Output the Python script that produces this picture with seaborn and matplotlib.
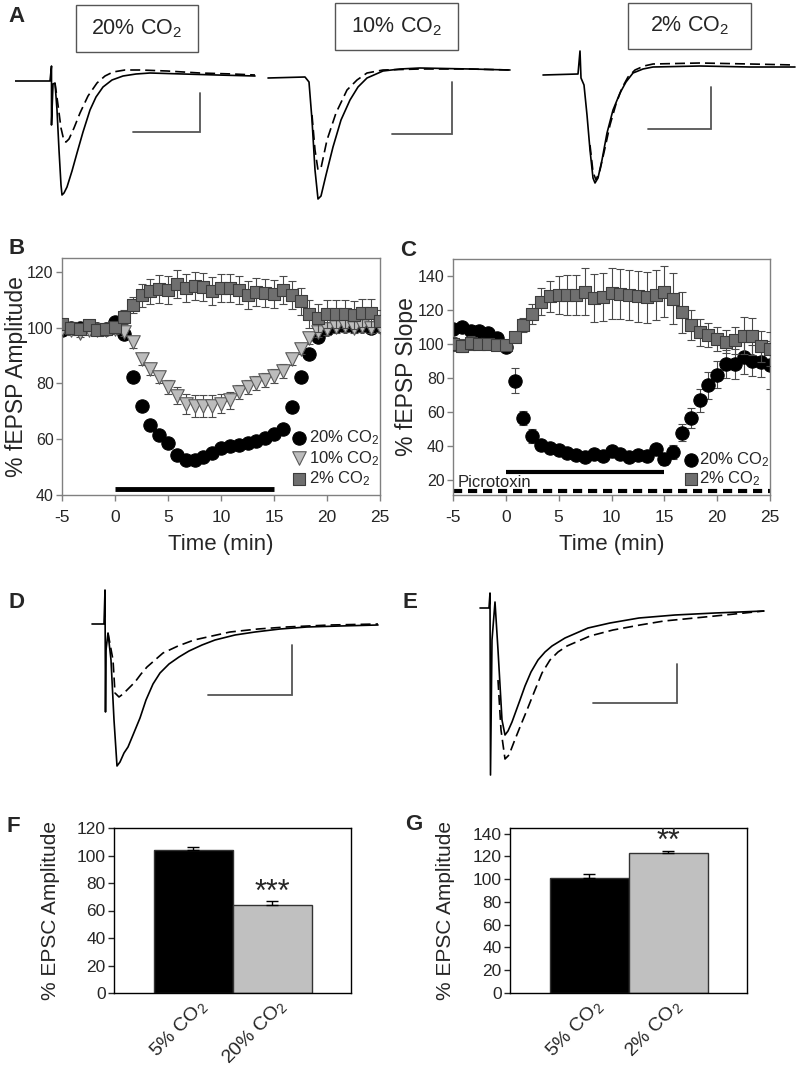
import matplotlib
matplotlib.use("Agg")
import matplotlib.pyplot as plt
import matplotlib.transforms as mtrans
import seaborn as sns
import pandas as pd
from matplotlib.patches import Rectangle

# ---------------- data ----------------
time_min = [-5.0, -4.17, -3.33, -2.5, -1.67, -0.83, 0.0, 0.83, 1.67, 2.5, 3.33, 4.17, 5.0,
            5.83, 6.67, 7.5, 8.33, 9.17, 10.0, 10.83, 11.67, 12.5, 13.33, 14.17, 15.0, 15.83,
            16.67, 17.5, 18.33, 19.17, 20.0, 20.83, 21.67, 22.5, 23.33, 24.17, 25.0]

# panel B: % fEPSP amplitude
amp_20 = [99.0, 100.0, 100.0, 100.5, 99.5, 99.5, 102.1, 97.8, 82.5, 72.0, 65.0, 61.5, 58.5,
          54.5, 52.5, 52.5, 53.5, 55.0, 56.8, 57.6, 58.0, 58.6, 59.5, 60.5, 61.8, 63.5, 71.5,
          82.5, 90.5, 96.5, 99.4, 100.5, 100.5, 100.5, 100.5, 100.0, 100.5]
amp_20_err = [1.0, 1.0, 1.0, 1.0, 1.0, 1.0, 1.0, 1.0, 1.0, 1.0, 1.0, 1.0, 1.2, 1.5, 1.5, 1.5,
              1.5, 1.5, 1.2, 1.2, 1.0, 1.0, 1.0, 1.0, 1.0, 1.0, 1.0, 1.0, 1.0, 1.0, 1.0, 1.0,
              1.0, 1.0, 1.0, 1.0, 1.0]
amp_10 = [99.5, 99.0, 98.0, 99.0, 99.3, 99.0, 99.4, 98.5, 94.8, 88.6, 85.2, 82.3, 78.6, 75.6,
          72.6, 71.8, 71.8, 71.8, 72.8, 74.0, 76.8, 78.8, 80.2, 81.4, 82.6, 84.5, 88.6, 92.5,
          96.3, 98.5, 99.5, 100.2, 100.5, 100.0, 100.5, 100.0, 100.3]
amp_10_err = [1.5, 1.5, 1.5, 1.5, 1.5, 1.5, 1.5, 1.5, 2.0, 2.0, 2.0, 2.0, 2.5, 3.0, 3.5, 4.0,
              4.0, 4.0, 3.5, 3.0, 2.5, 2.5, 2.5, 2.5, 2.5, 2.5, 2.0, 2.0, 2.0, 2.0, 2.0, 2.0,
              2.0, 2.0, 2.0, 2.0, 2.0]
amp_2 = [101.2, 100.0, 99.7, 100.8, 99.3, 99.4, 100.3, 103.8, 108.1, 111.6, 113.0, 114.0,
         113.6, 115.7, 114.3, 115.0, 114.7, 113.3, 114.3, 114.2, 113.5, 111.8, 112.9, 112.4,
         112.0, 113.5, 111.7, 109.4, 104.8, 103.5, 104.8, 105.0, 105.0, 104.5, 105.4, 105.4,
         102.5]
amp_2_err = [2.0, 2.0, 2.0, 2.0, 2.0, 2.0, 2.0, 2.5, 3.0, 4.0, 4.5, 5.0, 5.0, 5.0, 5.0, 5.0,
             5.0, 5.0, 5.0, 5.0, 5.0, 5.0, 5.0, 5.0, 5.0, 5.0, 5.0, 5.0, 5.0, 5.0, 5.0, 5.0,
             5.0, 5.0, 5.0, 5.0, 4.0]

# panel C: % fEPSP slope (with picrotoxin)
slope_20 = [108.8, 109.8, 107.8, 107.3, 106.3, 103.3, 98.0, 78.4, 56.3, 45.7, 40.6, 38.6, 37.3,
            35.9, 34.7, 33.3, 35.3, 33.9, 36.7, 35.3, 33.3, 34.7, 33.9, 38.2, 32.4, 36.3, 47.6,
            56.5, 66.7, 75.5, 81.8, 88.2, 88.2, 92.2, 90.2, 89.6, 87.6]
slope_20_err = [2, 2, 2, 2, 2, 2, 2, 7.5, 4, 4, 3, 3, 3, 3, 3, 3, 3, 3, 3, 3, 3, 3, 3, 3, 3.5,
                4, 5, 6, 7, 8, 8, 8, 9, 10, 9, 9, 14]
slope_2 = [100.0, 99.0, 100.6, 100.0, 100.0, 99.4, 99.2, 103.9, 111.2, 117.6, 124.9, 128.0,
           128.8, 128.8, 128.8, 130.8, 127.1, 127.5, 129.8, 129.4, 128.8, 128.0, 127.5, 128.8,
           130.8, 126.5, 118.6, 111.2, 106.9, 105.3, 102.9, 101.4, 102.0, 104.9, 104.5, 98.6,
           97.1]
slope_2_err = [4, 4, 4, 3, 3, 3, 3, 3, 4, 6, 8, 9, 11, 12, 12, 14, 14, 14, 15, 15, 15, 15, 15,
               15, 15, 15, 12, 9, 8, 7, 7, 7, 8, 11, 11, 9, 10]

co2_period = [0, 15]          # min
picrotoxin_period = [-5, 25]  # min

# panels F / G: % EPSC amplitude
f_groups = ["5% CO$_2$", "20% CO$_2$"]
f_values = [104, 64]
f_errors = [2, 3]
g_groups = ["5% CO$_2$", "2% CO$_2$"]
g_values = [101, 123]
g_errors = [4, 2]

# example traces (time in ms, amplitude in mV); *_d = dashed trace
a20_t = [0, 3.5, 3.65, 3.65, 3.8, 4.0, 4.2, 4.4, 4.6, 4.7, 4.9, 5.2, 5.7, 6.2, 6.8, 7.5, 8.1,
         8.8, 9.7, 10.8, 12.1, 13.5, 16.8, 20.2, 24.0]
a20_v = [0, 0, 0.15, -0.44, -0.03, -0.02, -0.29, -0.69, -1.04, -1.14, -1.12, -1.06, -0.90,
         -0.72, -0.51, -0.29, -0.16, -0.06, 0.01, 0.05, 0.07, 0.08, 0.07, 0.06, 0.05]
a20_d_t = [4.0, 4.3, 4.6, 4.9, 5.1, 5.4, 5.9, 6.5, 7.3, 8.2, 9.0, 9.8, 11.0, 12.5, 15.2, 18.5,
           21.8, 24.0]
a20_d_v = [-0.02, -0.24, -0.47, -0.60, -0.61, -0.58, -0.47, -0.32, -0.15, -0.02, 0.05, 0.09,
           0.11, 0.11, 0.10, 0.08, 0.07, 0.06]
a10_t = [0, 3.7, 4.1, 4.4, 4.7, 5.0, 5.3, 5.8, 6.5, 7.3, 8.2, 9.0, 9.9, 11.5, 13.2, 15.2, 20.2,
         24.2]
a10_v = [-0.01, 0, -0.05, -0.43, -0.93, -1.22, -1.19, -0.98, -0.70, -0.43, -0.23, -0.10, -0.01,
         0.06, 0.08, 0.09, 0.08, 0.07]
a10_d_t = [4.4, 4.7, 5.0, 5.3, 5.9, 6.8, 7.9, 8.9, 9.9, 11.5, 15.2, 20.2, 24.2]
a10_d_v = [-0.38, -0.73, -0.93, -0.91, -0.63, -0.36, -0.13, -0.03, 0.04, 0.07, 0.08, 0.08, 0.07]
a2_t = [0, 3.5, 3.7, 3.8, 4.1, 4.4, 4.7, 5.0, 5.2, 5.5, 5.9, 6.4, 7.0, 7.7, 8.3, 9.0, 10.0,
        11.0, 15.7, 20.7, 25.2]
a2_v = [0, 0.01, 0.24, -0.03, -0.10, -0.40, -0.75, -1.03, -1.08, -1.03, -0.85, -0.58, -0.35,
        -0.18, -0.07, 0.02, 0.06, 0.08, 0.09, 0.08, 0.08]
a2_d_t = [4.7, 5.0, 5.3, 5.7, 6.2, 6.7, 7.3, 7.9, 8.5, 9.2, 10.1, 11.0, 15.7, 20.7, 25.2]
a2_d_v = [-0.70, -0.97, -1.05, -0.95, -0.73, -0.50, -0.29, -0.13, -0.02, 0.05, 0.09, 0.11,
          0.12, 0.11, 0.10]
d_t = [0, 1.2, 1.3, 1.35, 1.4, 1.6, 1.9, 2.2, 2.5, 2.8, 3.2, 3.6, 4.1, 4.8, 5.4, 6.1, 6.8, 7.7,
       8.7, 9.7, 11.0, 12.3, 14.3, 16.3, 18.8, 21.5, 24.8, 28.6]
d_v = [0, 0, 0.34, -0.88, -0.26, -0.09, -0.36, -0.96, -1.42, -1.38, -1.29, -1.23, -1.11, -0.94,
       -0.76, -0.60, -0.49, -0.40, -0.33, -0.27, -0.21, -0.16, -0.11, -0.08, -0.05, -0.03, -0.02,
       -0.01]
d_d_t = [1.6, 2.1, 2.3, 2.7, 3.1, 3.7, 4.3, 4.9, 5.5, 6.3, 7.1, 8.6, 10.2, 12.0, 13.8, 16.6,
         19.4, 23.8, 28.6]
d_d_v = [-0.09, -0.36, -0.69, -0.73, -0.70, -0.64, -0.58, -0.50, -0.43, -0.36, -0.29, -0.22,
         -0.16, -0.12, -0.08, -0.05, -0.03, -0.01, 0.0]
e_t = [0, 0.9, 1.0, 1.05, 1.2, 1.5, 1.8, 2.2, 2.5, 2.8, 3.2, 3.6, 4.0, 4.5, 5.1, 5.8, 6.5, 7.2,
       8.5, 10.8, 13.0, 15.9, 19.5, 23.5, 28.4]
e_v = [0, 0, 0.15, -1.67, -0.32, 0.06, -0.42, -1.12, -1.27, -1.23, -1.14, -1.03, -0.92, -0.78,
       -0.64, -0.52, -0.44, -0.38, -0.30, -0.20, -0.15, -0.10, -0.07, -0.05, -0.03]
e_d_t = [1.8, 2.1, 2.5, 2.9, 3.4, 4.0, 4.7, 5.5, 6.2, 7.0, 7.8, 8.7, 11.0, 13.3, 16.0, 18.4,
         23.5, 28.4]
e_d_v = [-0.72, -1.22, -1.51, -1.47, -1.34, -1.19, -1.02, -0.82, -0.65, -0.52, -0.44, -0.38,
         -0.28, -0.22, -0.17, -0.13, -0.08, -0.03]

# ---------------- style ----------------
sns.set_style("white")
plt.rcParams["font.family"] = ["Liberation Sans", "DejaVu Sans"]
plt.rcParams["mathtext.default"] = "regular"
plt.rcParams["axes.unicode_minus"] = False

W, H = 797, 1068
fig = plt.figure(figsize=(W / 100, H / 100), dpi=100)


def rect(l, t, r, b):
    return [l / W, 1 - b / H, (r - l) / W, (b - t) / H]


def fig_text(x, y, s, **kw):
    fig.text(x / W, 1 - y / H, s, **kw)


def trace_axes(l, t, r, b, x0, y0):
    ax = fig.add_axes(rect(l, t, r, b))
    ax.set_xlim((l - x0) / 10, (r - x0) / 10)
    ax.set_ylim((y0 - b) / 100, (y0 - t) / 100)
    ax.axis("off")
    return ax


def draw_trace(ax, t, v, td, vd, bar):
    sns.lineplot(x=t, y=v, ax=ax, color="black", lw=1.2, sort=False, estimator=None)
    sns.lineplot(x=td, y=vd, ax=ax, color="black", lw=1.2, sort=False, estimator=None,
                 linestyle=(0, (6, 3)))
    cx, cy, hl, vl = bar
    ax.plot([cx - hl, cx, cx], [cy, cy, cy + vl], color="#555555", lw=1.3,
            solid_joinstyle="miter")


def style_frame(ax, color="#808080"):
    for sp in ax.spines.values():
        sp.set_visible(True)
        sp.set_color(color)
        sp.set_linewidth(1.0)
    ax.tick_params(axis="both", direction="out", length=4, width=1, color=color,
                   left=True, bottom=True)
    ax.tick_params(axis="y", pad=2, labelsize=11.5)
    ax.tick_params(axis="x", pad=7, labelsize=12.5)


# ---------------- A: traces ----------------
panels_A = [
    ((15, 40, 262, 215, 15, 81), (a20_t, a20_v, a20_d_t, a20_d_v), (18.5, -0.51, 6.7, 0.39),
     (76, 5, 198, 52), "20% CO$_2$"),
    ((265, 40, 515, 215, 268, 77), (a10_t, a10_v, a10_d_t, a10_d_v), (18.4, -0.57, 6.0, 0.52),
     (335, 3, 458, 50), "10% CO$_2$"),
    ((540, 40, 797, 215, 543, 75), (a2_t, a2_v, a2_d_t, a2_d_v), (16.8, -0.54, 6.3, 0.42),
     (628, 3, 751, 49), "2% CO$_2$"),
]
for box, tr, bar, lab_box, lab in panels_A:
    ax = trace_axes(*box)
    draw_trace(ax, *tr, bar)
    l, t, r, b = lab_box
    fig.add_artist(Rectangle((l / W, 1 - b / H), (r - l) / W, (b - t) / H,
                             transform=fig.transFigure, fill=False, ec="#555555", lw=1.0))
    fig_text((l + r) / 2, (t + b) / 2, lab, ha="center", va="center", fontsize=15.5)

# ---------------- B ----------------
axB = fig.add_axes(rect(62, 258, 380, 495))
series_B = [
    ("20% CO$_2$", amp_20, amp_20_err, "o", "black", "black", 92, 2),
    ("10% CO$_2$", amp_10, amp_10_err, "v", "#bcbcbc", "#5a5a5a", 95, 3),
    ("2% CO$_2$", amp_2, amp_2_err, "s", "#6f6f6f", "#3c3c3c", 74, 4),
]
for name, vals, errs, mk, fc, ec, s, z in series_B:
    axB.errorbar(time_min, vals, yerr=errs, fmt="none", ecolor="#4a4a4a", elinewidth=0.8,
                 capsize=3, capthick=0.8, zorder=z)
    sns.scatterplot(x=time_min, y=vals, marker=mk, s=s, color=fc, edgecolor=ec, linewidth=0.8,
                    ax=axB, zorder=z + 0.5, label=name)
axB.plot(co2_period, [42, 42], color="black", lw=3.5, solid_capstyle="butt")
axB.set_xlim(-5, 25)
axB.set_ylim(40, 125)
axB.set_xticks([-5, 0, 5, 10, 15, 20, 25])
axB.set_yticks([40, 60, 80, 100, 120])
style_frame(axB)
axB.set_ylabel("% fEPSP Amplitude", fontsize=16.5)
axB.yaxis.set_label_coords(-0.108, 0.5)
axB.set_xlabel("Time (min)", fontsize=16, labelpad=6)
axB.legend(loc="lower right", bbox_to_anchor=(1.0, 0.03), frameon=False, fontsize=12,
           handletextpad=0.1, labelspacing=0.1, borderpad=0, borderaxespad=0,
           handlelength=1.0)

# ---------------- C ----------------
axC = fig.add_axes(rect(453, 259, 770, 495))
series_C = [
    ("20% CO$_2$", slope_20, slope_20_err, "o", "black", "black", 92, 2),
    ("2% CO$_2$", slope_2, slope_2_err, "s", "#6f6f6f", "#3c3c3c", 74, 4),
]
for name, vals, errs, mk, fc, ec, s, z in series_C:
    axC.errorbar(time_min, vals, yerr=errs, fmt="none", ecolor="#4a4a4a", elinewidth=0.8,
                 capsize=3, capthick=0.8, zorder=z)
    sns.scatterplot(x=time_min, y=vals, marker=mk, s=s, color=fc, edgecolor=ec, linewidth=0.8,
                    ax=axC, zorder=z + 0.5, label=name)
axC.plot(co2_period, [24.7, 24.7], color="black", lw=3.0, solid_capstyle="butt")
axC.plot(picrotoxin_period, [13.5, 13.5], color="black", lw=3.0, linestyle=(0, (2.2, 1.4)))
axC.text(-4.6, 18.5, "Picrotoxin", fontsize=12, va="center", ha="left")
axC.set_xlim(-5, 25)
axC.set_ylim(11, 150)
axC.set_xticks([-5, 0, 5, 10, 15, 20, 25])
axC.set_yticks([20, 40, 60, 80, 100, 120, 140])
style_frame(axC)
axC.set_ylabel("% fEPSP Slope", fontsize=16.5)
axC.yaxis.set_label_coords(-0.11, 0.5)
axC.set_xlabel("Time (min)", fontsize=16, labelpad=6)
axC.legend(loc="lower right", bbox_to_anchor=(1.0, 0.03), frameon=False, fontsize=12,
           handletextpad=0.0, labelspacing=0.0, borderpad=0, borderaxespad=0,
           handlelength=1.0)

# ---------------- D / E traces ----------------
axD = trace_axes(88, 580, 385, 775, 92, 624)
draw_trace(axD, d_t, d_v, d_d_t, d_d_v, (20.0, -0.71, 8.4, 0.50))
axE = trace_axes(475, 580, 770, 780, 480, 608)
draw_trace(axE, e_t, e_v, e_d_t, e_d_v, (19.7, -0.95, 8.4, 0.39))


# ---------------- F / G bars ----------------
def bar_panel(ax, groups, values, errors, ymax, yticks, star, star_y, label_x):
    df = pd.DataFrame({"group": groups, "value": values})
    sns.barplot(data=df, x="group", y="value", hue="group", palette=["black", "#c0c0c0"],
                width=1.0, edgecolor="#333333", linewidth=1.0, legend=False, ax=ax)
    ax.errorbar([0, 1], values, yerr=[[0, 0], errors], fmt="none", ecolor="black",
                elinewidth=1.0, capsize=4, capthick=1.0)
    ax.text(1, star_y, star, ha="center", va="center", fontsize=22)
    ax.set_xlim(-1, 2)
    ax.set_ylim(0, ymax)
    ax.set_yticks(yticks)
    for sp in ax.spines.values():
        sp.set_visible(True)
        sp.set_color("black")
        sp.set_linewidth(1.0)
    ax.tick_params(axis="y", direction="out", length=4, width=1, left=True, pad=2,
                   labelsize=12.5)
    ax.tick_params(axis="x", length=0, pad=2)
    ax.set_xlabel("")
    ax.set_ylabel("% EPSC Amplitude", fontsize=15)
    ax.yaxis.set_label_coords(label_x, 0.5)
    ax.set_xticks([0, 1])
    ax.set_xticklabels(groups, rotation=45, ha="right", rotation_mode="anchor", fontsize=14)
    shift = mtrans.ScaledTranslation(4 / 100, 0, fig.dpi_scale_trans)
    for lbl in ax.get_xticklabels():
        lbl.set_transform(lbl.get_transform() + shift)


axF = fig.add_axes(rect(114, 828, 351, 993))
bar_panel(axF, f_groups, f_values, f_errors, 120, [0, 20, 40, 60, 80, 100, 120], "***", 73,
          -0.228)
axG = fig.add_axes(rect(510, 828, 747, 993))
bar_panel(axG, g_groups, g_values, g_errors, 145, [0, 20, 40, 60, 80, 100, 120, 140], "**", 133,
          -0.232)

# ---------------- panel letters ----------------
for x, y, s in [(8, 17, "A"), (8, 248, "B"), (400, 250, "C"), (8, 602, "D"), (403, 602, "E"),
                (7, 827, "F"), (405, 825, "G")]:
    fig_text(x, y, s, fontsize=16, fontweight="bold", va="center", ha="left")

fig.savefig("out.png", dpi=100)
